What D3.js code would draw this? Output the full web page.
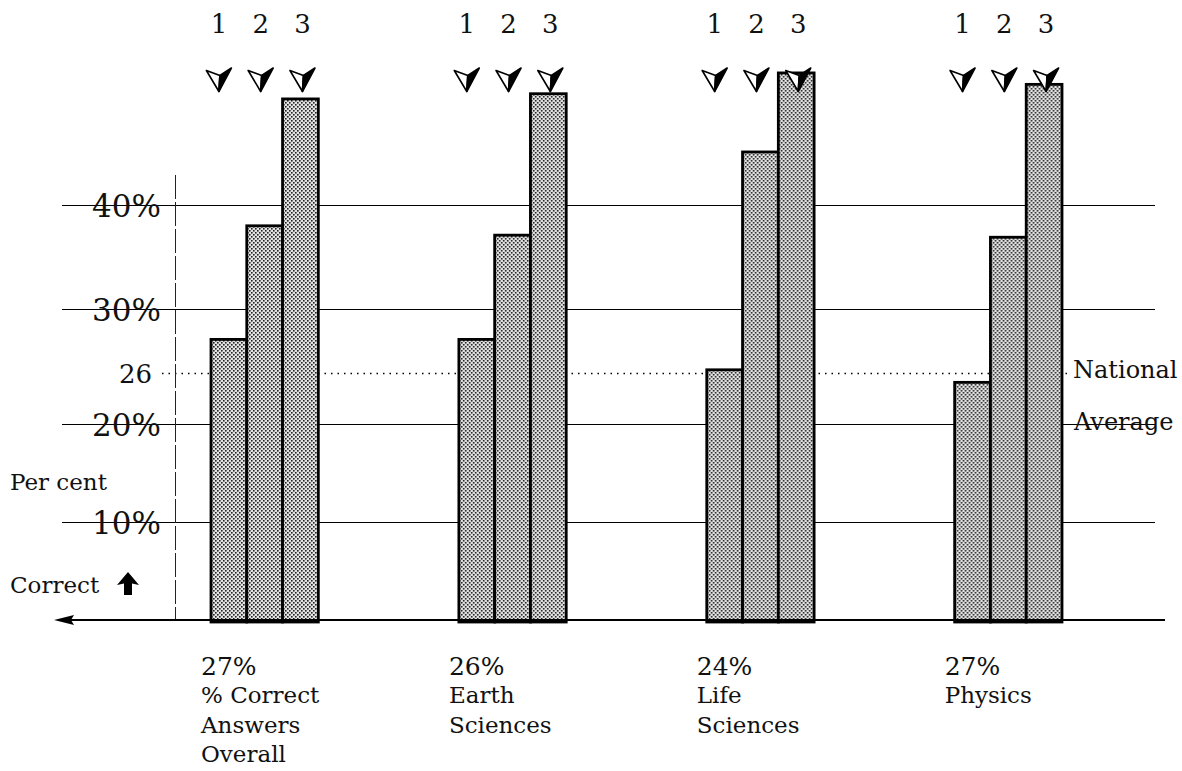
<!DOCTYPE html>
<html><head><meta charset="utf-8">
<script src="https://cdn.jsdelivr.net/npm/d3@7"></script>
<style>
body{margin:0;background:#fff}
text{font-family:"DejaVu Serif",serif;fill:#111}
</style>
</head><body>
<svg id="chart" width="1182" height="771"></svg>
<script>
// ---- data ----
const groups = ["Overall", "Earth Sciences", "Life Sciences", "Physics"];
const groupPct = ["27%", "26%", "24%", "27%"];
const groupLabels = [["% Correct", "Answers", "Overall"], ["Earth", "Sciences"], ["Life", "Sciences"], ["Physics"]];
const series = ["1", "2", "3"];
const values1 = [28.1, 28.1, 26.2, 24.9];
const values2 = [38.0, 37.1, 45.1, 36.9];
const values3 = [50.2, 50.7, 52.7, 51.6];
const yTicks = [10, 20, 30, 40];
const yTickLabels = ["10%", "20%", "30%", "40%"];
const nationalAverage = 26;
const nationalAverageLabel = "26";
const nationalText = ["National", "Average"];
const axisTitle = ["Per cent", "Correct"];

const svg = d3.select("#chart");
const defs = svg.append("defs");
const pat = defs.append("pattern").attr("id", "dots").attr("patternUnits", "userSpaceOnUse")
  .attr("width", 4).attr("height", 4);
pat.append("rect").attr("width", 4).attr("height", 4).attr("fill", "#e2e2e2");
pat.append("rect").attr("x", 0).attr("y", 0).attr("width", 1.6).attr("height", 1.6).attr("fill", "#222");
pat.append("rect").attr("x", 2).attr("y", 2).attr("width", 1.6).attr("height", 1.6).attr("fill", "#222");

// scales (hand-drawn original: piecewise vertical scale)
const y = d3.scaleLinear().domain([0, 10, 20, 26, 30, 40, 55]).range([620, 522, 424, 373, 309, 205, 49]);
const x0 = d3.scaleBand().domain(groups).range([211, 1062]).paddingInner(0.567).paddingOuter(0);
const x1 = d3.scaleBand().domain(series).range([0, x0.bandwidth()]).padding(0);

const table = groups.map((g, i) => ({group: g, vals: [values1[i], values2[i], values3[i]]}));

// gridlines
svg.append("g").selectAll("line").data(yTicks).join("line")
  .attr("x1", 62).attr("x2", 1155)
  .attr("y1", d => Math.round(y(d)) + 0.5).attr("y2", d => Math.round(y(d)) + 0.5)
  .attr("stroke", "#000").attr("stroke-width", 1);

// national average dotted line
svg.append("line").attr("x1", 162).attr("x2", 1068)
  .attr("y1", Math.round(y(nationalAverage)) + 0.5).attr("y2", Math.round(y(nationalAverage)) + 0.5)
  .attr("stroke", "#000").attr("stroke-width", 1.3).attr("stroke-dasharray", "1.5,5");

// vertical dashed line
svg.append("line").attr("x1", 175.5).attr("x2", 175.5).attr("y1", 175).attr("y2", y(0))
  .attr("stroke", "#222").attr("stroke-width", 1).attr("stroke-dasharray", "24,3");

// tick labels
svg.append("g").selectAll("text").data(yTicks).join("text")
  .attr("x", 161).attr("y", d => y(d) + 12)
  .attr("text-anchor", "end").attr("font-size", 31)
  .text((d, i) => yTickLabels[i]);
svg.append("text").attr("x", 152).attr("y", y(nationalAverage) + 10)
  .attr("text-anchor", "end").attr("font-size", 26).text(nationalAverageLabel);

// bars
const gG = svg.append("g").selectAll("g").data(table).join("g")
  .attr("transform", d => `translate(${x0(d.group)},0)`);
gG.selectAll("rect").data(d => d.vals.map((v, j) => ({s: series[j], v}))).join("rect")
  .attr("x", d => x1(d.s)).attr("width", x1.bandwidth())
  .attr("y", d => y(d.v)).attr("height", d => y(0) + 2 - y(d.v))
  .attr("fill", "url(#dots)").attr("stroke", "#000").attr("stroke-width", 2.8);

// series numbers and arrow markers on top
const cx = (d, j) => x1(d) + x1.bandwidth() / 2 - 4 + (j - 1) * 6;
gG.selectAll("text.num").data(series).join("text").attr("class", "num")
  .attr("x", (d, j) => cx(d, j)).attr("y", 33)
  .attr("text-anchor", "middle").attr("font-size", 26).text(d => d);
const arr = gG.selectAll("g.arr").data(series).join("g").attr("class", "arr")
  .attr("transform", (d, j) => `translate(${cx(d, j)},79)`);
arr.append("path").attr("d", "M-12.5,-8.5 L1,-3.5 L0,12.5 Z").attr("fill", "#fff").attr("stroke", "#000").attr("stroke-width", 1.6).attr("stroke-linejoin", "round");
arr.append("path").attr("d", "M1,-3.5 L12.5,-11 L0,12.5 Z").attr("fill", "#000").attr("stroke", "#000").attr("stroke-width", 1.6).attr("stroke-linejoin", "round");

// baseline with left arrow
svg.append("line").attr("x1", 66).attr("x2", 1165).attr("y1", y(0)).attr("y2", y(0))
  .attr("stroke", "#000").attr("stroke-width", 2);
svg.append("path").attr("d", `M54,${y(0)} L74,${y(0) - 5} L71,${y(0)} L74,${y(0) + 5} Z`).attr("fill", "#000");

// group labels below
const lab = svg.append("g").selectAll("g").data(table).join("g")
  .attr("transform", d => `translate(${x0(d.group) - 10},0)`);
lab.append("text").attr("x", 0).attr("y", 675).attr("font-size", 25).text((d, i) => groupPct[i]);
lab.each(function(d, i) {
  d3.select(this).selectAll("text.l").data(groupLabels[i]).join("text").attr("class", "l")
    .attr("x", 0).attr("y", (t, k) => 703 + k * 29.5).attr("font-size", 23).text(t => t);
});

// national average text
svg.append("text").attr("x", 1073).attr("y", 378).attr("font-size", 24).text(nationalText[0]);
svg.append("text").attr("x", 1074).attr("y", 430).attr("font-size", 24).text(nationalText[1]);

// axis title
svg.append("text").attr("x", 10).attr("y", 490).attr("font-size", 23).text(axisTitle[0]);
svg.append("text").attr("x", 10).attr("y", 593).attr("font-size", 23).text(axisTitle[1]);
svg.append("path").attr("d", "M128,572 L139,585 L132,583.5 L132,595 L124,595 L124,583.5 L117,585 Z").attr("fill", "#000");
</script>
</body></html>
